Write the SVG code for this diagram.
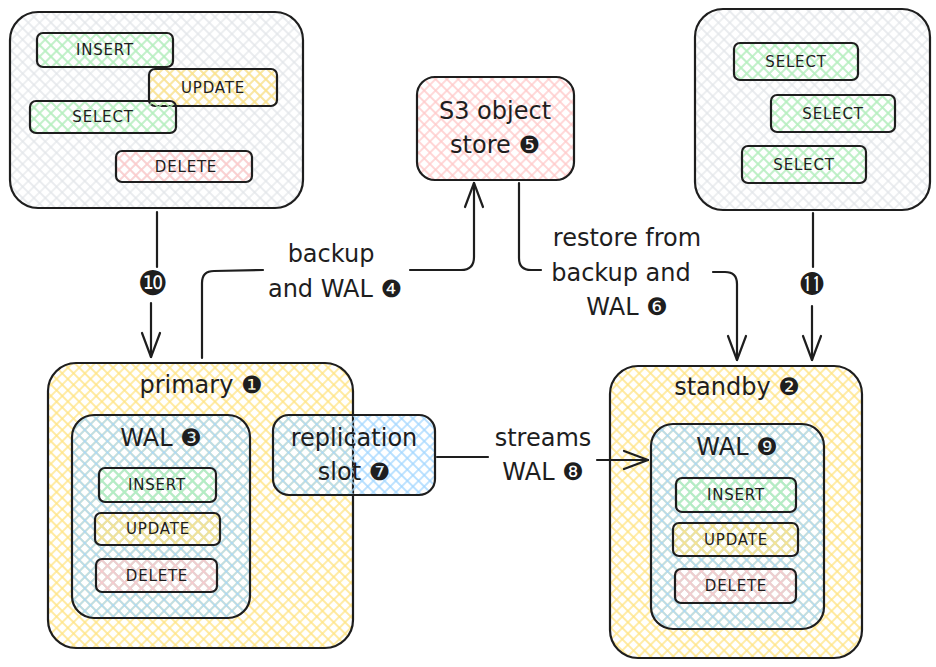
<svg xmlns="http://www.w3.org/2000/svg" width="936" height="667" viewBox="0 0 936 667">
<style>
.box{stroke:#1e1e1e;stroke-width:2.2;stroke-linejoin:round}
.ln{fill:none;stroke:#1e1e1e;stroke-width:2.2;stroke-linecap:round;stroke-linejoin:round}
.t{font-family:"DejaVu Sans","Noto Sans",sans-serif;fill:#1e1e1e;text-anchor:middle}
.big{font-size:24px}
.sm{font-size:15px;letter-spacing:0.8px}
.gy{fill:url(#hG)}.yl{fill:url(#hY)}.bl{fill:url(#hB)}.gr{fill:url(#hGr)}.rd{fill:url(#hR)}
</style>
<defs>
<pattern id="hG" width="8" height="8" patternUnits="userSpaceOnUse" patternTransform="rotate(45)"><path d="M4 0V8M0 4H8" stroke="#e3e6ea" stroke-width="1.3"/></pattern>
<pattern id="hY" width="8" height="8" patternUnits="userSpaceOnUse" patternTransform="rotate(45)"><path d="M4 0V8M0 4H8" stroke="#ffe483" stroke-width="1.4"/></pattern>
<pattern id="hB" width="8" height="8" patternUnits="userSpaceOnUse" patternTransform="rotate(45)"><path d="M4 0V8M0 4H8" stroke="#a5d8ff" stroke-width="1.4"/></pattern>
<pattern id="hGr" width="8" height="8" patternUnits="userSpaceOnUse" patternTransform="rotate(45)"><path d="M4 0V8M0 4H8" stroke="#b2f2bb" stroke-width="1.4"/></pattern>
<pattern id="hR" width="8" height="8" patternUnits="userSpaceOnUse" patternTransform="rotate(45)"><path d="M4 0V8M0 4H8" stroke="#ffc9c9" stroke-width="1.4"/></pattern>
<marker id="ah" markerWidth="30" markerHeight="30" refX="0" refY="0" orient="auto" markerUnits="userSpaceOnUse" style="overflow:visible"><path d="M-24 -9L0 0L-24 9" fill="none" stroke="#1e1e1e" stroke-width="2.2" stroke-linecap="round" stroke-linejoin="round"/></marker>
</defs>
<rect width="936" height="667" fill="#ffffff"/>

<g id="client-writes">
<rect class="box gy" x="10" y="12" width="293" height="196" rx="28"/>
<g id="cw-insert"><rect class="box gr" x="37" y="33" width="136" height="34" rx="6"/><text class="t sm" x="105" y="55">INSERT</text></g>
<g id="cw-update"><rect class="box yl" x="149" y="69" width="128" height="37" rx="6"/><text class="t sm" x="213" y="93">UPDATE</text></g>
<g id="cw-select"><rect class="box gr" x="30" y="101" width="146" height="32" rx="6"/><text class="t sm" x="103" y="122">SELECT</text></g>
<g id="cw-delete"><rect class="box rd" x="116" y="151" width="136" height="31" rx="6"/><text class="t sm" x="186" y="172">DELETE</text></g>
</g>

<g id="s3">
<rect class="box rd" x="417" y="77" width="157" height="103" rx="18"/>
<text class="t big" x="495" y="119">S3 object</text>
<text class="t big" x="495" y="153">store ❺</text>
</g>

<g id="client-reads">
<rect class="box gy" x="695" y="9" width="235" height="201" rx="28"/>
<g id="cr-select1"><rect class="box gr" x="734" y="43" width="124" height="37" rx="6"/><text class="t sm" x="796" y="67">SELECT</text></g>
<g id="cr-select2"><rect class="box gr" x="771" y="95" width="124" height="37" rx="6"/><text class="t sm" x="833" y="119">SELECT</text></g>
<g id="cr-select3"><rect class="box gr" x="742" y="146" width="124" height="37" rx="6"/><text class="t sm" x="804" y="170">SELECT</text></g>
</g>

<g id="primary">
<rect class="box yl" x="48" y="363" width="305" height="285" rx="28"/>
<text class="t big" x="201" y="393">primary ❶</text>
</g>
<g id="wal-primary">
<rect class="box bl" x="72" y="415" width="178" height="203" rx="22"/>
<text class="t big" x="161" y="446">WAL ❸</text>
<g id="wp-insert"><rect class="box gr" x="99" y="468" width="117" height="34" rx="6"/><text class="t sm" x="157" y="490">INSERT</text></g>
<g id="wp-update"><rect class="box yl" x="95" y="513" width="125" height="32" rx="6"/><text class="t sm" x="158" y="534">UPDATE</text></g>
<g id="wp-delete"><rect class="box rd" x="96" y="559" width="121" height="33" rx="6"/><text class="t sm" x="157" y="581">DELETE</text></g>
</g>

<g id="replication-slot">
<rect class="box bl" x="273" y="415" width="162" height="80" rx="16"/>
<text class="t big" x="354" y="446">replication</text>
<text class="t big" x="354" y="480">slot ❼</text>
</g>

<g id="standby">
<rect class="box yl" x="610" y="366" width="252" height="292" rx="28"/>
<text class="t big" x="737" y="395">standby ❷</text>
</g>
<g id="wal-standby">
<rect class="box bl" x="651" y="424" width="173" height="205" rx="22"/>
<text class="t big" x="737" y="455">WAL ❾</text>
<g id="ws-insert"><rect class="box gr" x="676" y="478" width="120" height="34" rx="6"/><text class="t sm" x="736" y="500">INSERT</text></g>
<g id="ws-update"><rect class="box yl" x="673" y="523" width="125" height="33" rx="6"/><text class="t sm" x="736" y="545">UPDATE</text></g>
<g id="ws-delete"><rect class="box rd" x="675" y="569" width="121" height="34" rx="6"/><text class="t sm" x="736" y="591">DELETE</text></g>
</g>

<g id="connectors">
<path class="ln" d="M157 212L157 267"/>
<path class="ln" d="M151 303L151 357" marker-end="url(#ah)"/>
<path class="ln" d="M202 358L202 283Q202 271 214 271L263 270"/>
<path class="ln" d="M410 270L461 270Q474 270 474 257L474 183" marker-end="url(#ah)"/>
<path class="ln" d="M519 183L519 258Q519 270 531 270L541 270"/>
<path class="ln" d="M713 272L725 272Q737 272 737 284L737 360" marker-end="url(#ah)"/>
<path class="ln" d="M813 213L813 267"/>
<path class="ln" d="M812 306L812 360" marker-end="url(#ah)"/>
<path class="ln" d="M437 457L488 457"/>
<path class="ln" d="M597 460L648 460" marker-end="url(#ah)"/>
</g>

<g id="labels">
<text class="t" x="153" y="295" font-size="34">❿</text>
<text class="t" x="812" y="293" font-size="24">⓫</text>
<text class="t big" x="331" y="262">backup</text>
<text class="t big" x="335" y="297">and WAL ❹</text>
<text class="t big" x="627" y="246">restore from</text>
<text class="t big" x="621" y="281">backup and</text>
<text class="t big" x="627" y="315">WAL ❻</text>
<text class="t big" x="543" y="446">streams</text>
<text class="t big" x="543" y="480">WAL ❽</text>
</g>
</svg>
